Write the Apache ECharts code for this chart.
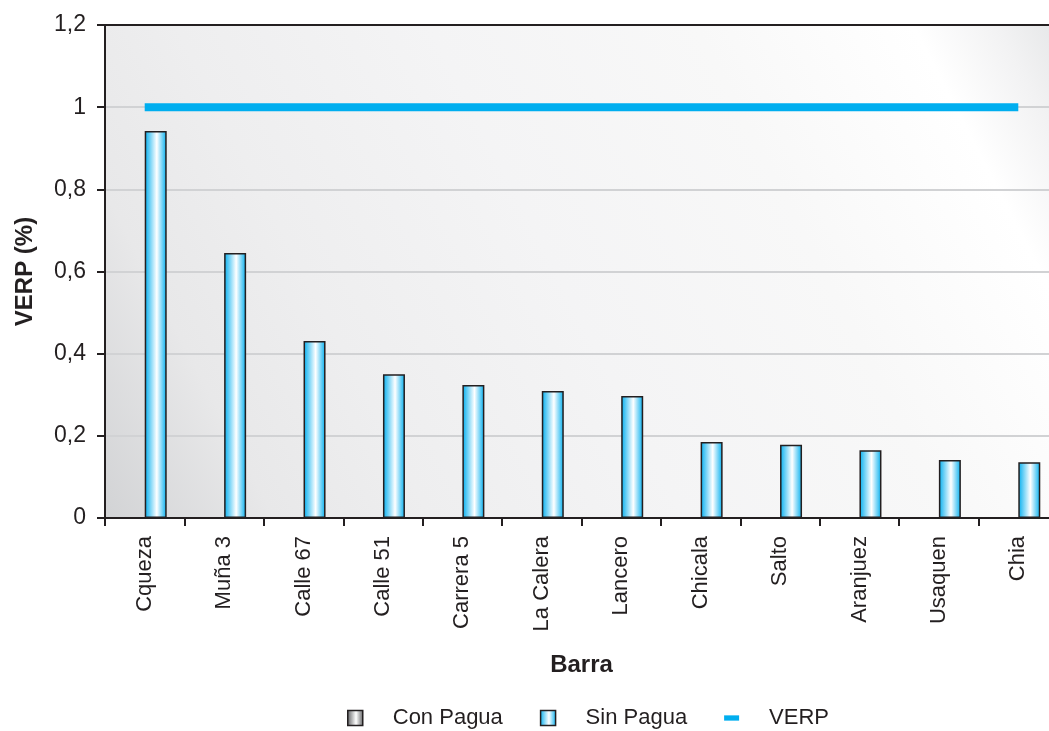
<!DOCTYPE html>
<html><head><meta charset="utf-8">
<script src="https://cdn.jsdelivr.net/npm/echarts@6/dist/echarts.min.js"></script>
<style>html,body{margin:0;padding:0;background:#fff;overflow:hidden}#c{width:1060px;height:731px}</style>
</head><body><div id="c"></div>
<script>
var categories = ['Cqueza','Muña 3','Calle 67','Calle 51','Carrera 5','La Calera','Lancero','Chicala','Salto','Aranjuez','Usaquen','Chia'];
var conPagua = [];
var sinPagua = [0.942,0.645,0.431,0.350,0.324,0.309,0.297,0.185,0.178,0.165,0.141,0.136];
var verp = [1,1,1,1,1,1,1,1,1,1,1,1];
var yTicks = [0,0.2,0.4,0.6,0.8,1,1.2];

var FONT = 'Liberation Sans, Arial, sans-serif';
var TXT = '#231f20';
function grad(edge){
  return {type:'linear',x:0,y:0,x2:1,y2:0,colorStops:[
    {offset:0,color:edge},{offset:0.55,color:'#ffffff'},{offset:1,color:edge}]};
}
var chart = echarts.init(document.getElementById('c'));
chart.setOption({
  animation:false,
  textStyle:{fontFamily:FONT,color:TXT},
  grid:{left:105,right:2,top:25,bottom:213,show:true,borderWidth:0,
    backgroundColor:{type:'linear',x:0,y:1,x2:1,y2:0,colorStops:[
      {offset:0,color:'#d2d3d5'},{offset:0.14,color:'#e8e8e9'},{offset:0.27,color:'#eeeeef'},
      {offset:0.48,color:'#f4f4f5'},{offset:0.7,color:'#f8f8f8'},{offset:0.88,color:'#ffffff'},
      {offset:0.95,color:'#f2f2f3'},{offset:1,color:'#e6e7e8'}]}},
  legend:{top:702,left:342,itemWidth:15,itemHeight:15,itemGap:37,
    textStyle:{fontSize:22,color:TXT,fontFamily:FONT,padding:[0,0,0,25]},
    data:[
      {name:'Con Pagua',icon:'rect',itemStyle:{color:grad('#5a5b5d'),borderColor:TXT,borderWidth:1.5}},
      {name:'Sin Pagua',icon:'rect',itemStyle:{color:grad('#00aeef'),borderColor:TXT,borderWidth:1.5}},
      {name:'VERP',icon:'path://M0,4H17V10H0Z',itemStyle:{color:'#00aeef'}}
    ]},
  xAxis:[{type:'category',data:categories,
    axisLine:{lineStyle:{color:TXT,width:2}},
    axisTick:{show:true,length:8,lineStyle:{color:TXT,width:2}},
    axisLabel:{rotate:90,margin:18,fontSize:22,color:TXT,fontFamily:FONT,interval:0},
    name:'Barra',nameLocation:'middle',nameGap:135,
    nameTextStyle:{fontSize:24,fontWeight:'bold',color:TXT,fontFamily:FONT}},
    {type:'category',data:categories,position:'top',
     axisLine:{lineStyle:{color:TXT,width:2}},axisTick:{show:false},axisLabel:{show:false}}],
  yAxis:{type:'value',min:0,max:1.2,interval:0.2,
    axisLine:{show:true,lineStyle:{color:TXT,width:2}},
    axisTick:{show:true,length:8,lineStyle:{color:TXT,width:2}},
    axisLabel:{margin:19,fontSize:23,color:TXT,fontFamily:FONT,
      formatter:function(v){var t=yTicks.find(function(x){return Math.abs(x-v)<1e-9;});return String(t===undefined?v:t).replace('.',',');}},
    splitLine:{show:true,lineStyle:{color:'#d1d2d4',width:2}},
    name:'VERP (%)',nameLocation:'middle',nameGap:68,nameRotate:90,
    nameTextStyle:{fontSize:24,fontWeight:'bold',color:TXT,fontFamily:FONT}},
  series:[
    {name:'Con Pagua',type:'bar',data:conPagua,barWidth:22,barGap:'0%',
     itemStyle:{color:grad('#5a5b5d'),borderColor:TXT,borderWidth:1.5}},
    {name:'Sin Pagua',type:'bar',data:sinPagua,barWidth:22,barGap:'0%',
     itemStyle:{color:grad('#00aeef'),borderColor:TXT,borderWidth:1.5}},
    {name:'VERP',type:'line',data:verp,symbol:'none',z:5,
     lineStyle:{color:'#00aeef',width:8,cap:'butt'},itemStyle:{color:'#00aeef'}}
  ]
});
</script></body></html>
